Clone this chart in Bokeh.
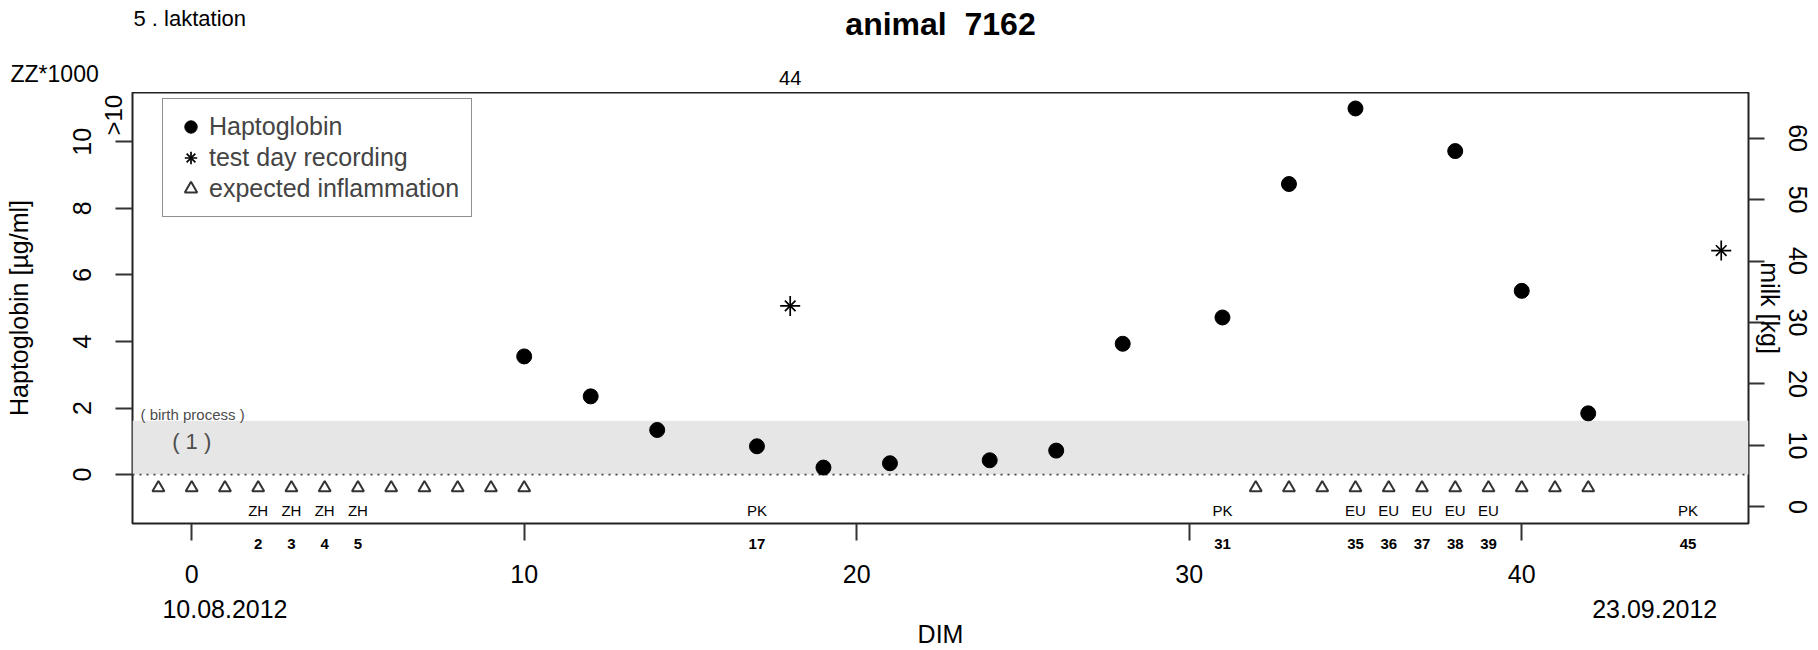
from bokeh.plotting import figure
from bokeh.layouts import column
from bokeh.models import (Range1d, LinearAxis, FixedTicker, Legend, LegendItem,
                          BoxAnnotation, Span)
from bokeh.embed import file_html
from bokeh.resources import INLINE
from bokeh.core.properties import value

# ---------------- data ----------------
hapto_day = [10, 12, 14, 17, 19, 21, 24, 26, 28, 31, 33, 35, 38, 40, 42]
hapto_val = [3.55, 2.35, 1.34, 0.85, 0.21, 0.34, 0.43, 0.72, 3.93, 4.72, 8.73, 11.0, 9.72, 5.52, 1.84]
test_day = [18, 46]
milk_kg = [32.7, 41.7]
zz_day = [18]
zz_text = ["44"]
infl_day = [-1, 0, 1, 2, 3, 4, 5, 6, 7, 8, 9, 10, 32, 33, 34, 35, 36, 37, 38, 39, 40, 41, 42]
code_day = [2, 3, 4, 5, 17, 31, 35, 36, 37, 38, 39, 45]
code_text = ["ZH", "ZH", "ZH", "ZH", "PK", "PK", "EU", "EU", "EU", "EU", "EU", "PK"]
date_day = [1, 44]
date_text = ["10.08.2012", "23.09.2012"]
x_ticks = [0, 10, 20, 30, 40]
y_ticks = [0, 2, 4, 6, 8, 10]
milk_ticks = [0, 10, 20, 30, 40, 50, 60]
band_top = 1.62          # upper limit of the shaded Haptoglobin band
over_level = 10.8        # where the ">10" marker of the left axis sits
over_text = ">10"
title_text = "animal\u00a0\u00a07162"

# ---------------- layout constants ----------------
FONT = "Liberation Sans"
BASE = "25px"
W, H_TOP, H_MAIN = 1818, 92, 558
B_LEFT, B_RIGHT, B_BOTTOM = 132, 70, 126
X_LO, X_HI = -1.78, 46.82
Y_LO, Y_HI = -1.47, 11.48
M_LO, M_HI = -2.71, 67.42
milk_mid = (M_LO + M_HI) / 2
frame_w = W - B_LEFT - B_RIGHT
ppu = frame_w / (X_HI - X_LO)

infl_level = -0.40
code_level = -1.07


def no_align(fig):
    if "frame_align" in fig.properties():
        fig.frame_align = False


# ---------------- top strip (texts above the plot box) ----------------
top = figure(width=W, height=H_TOP, output_backend="svg", toolbar_location=None,
             x_range=Range1d(X_LO - B_LEFT / ppu, X_HI + B_RIGHT / ppu),
             y_range=Range1d(H_TOP, 0), x_axis_type=None, y_axis_type=None,
             min_border=0, outline_line_color=None)
no_align(top)
top.grid.visible = False
top.text(x=[(X_LO + X_HI) / 2], y=[23], text=[title_text], text_align="center",
         text_baseline="alphabetic", text_font=value(FONT), text_font_size="32px",
         text_font_style="bold", text_color="black")
top.text(x=[X_LO + 1 / ppu], y=[18], text=["5 . laktation"], text_align="left",
         text_baseline="alphabetic", text_font=value(FONT), text_font_size="22px",
         text_color="black")
top.text(x=[X_LO - 122 / ppu], y=[73], text=["ZZ*1000"], text_align="left",
         text_baseline="alphabetic", text_font=value(FONT), text_font_size="23px",
         text_color="black")
top.text(x=zz_day, y=[77] * len(zz_day), text=zz_text, text_align="center",
         text_baseline="alphabetic", text_font=value(FONT), text_font_size="20px",
         text_color="black")

# ---------------- main plot ----------------
p = figure(width=W, height=H_MAIN, output_backend="svg", toolbar_location=None,
           x_range=Range1d(X_LO, X_HI), y_range=Range1d(Y_LO, Y_HI),
           x_axis_type=None, y_axis_type=None,
           min_border_left=B_LEFT, min_border_right=B_RIGHT, min_border_top=0,
           min_border_bottom=B_BOTTOM)
no_align(p)
p.extra_y_ranges = {"milk": Range1d(M_LO, M_HI)}
p.grid.visible = False
p.outline_line_color = "#222222"
p.outline_line_width = 2

p.add_layout(BoxAnnotation(bottom=0, top=band_top, fill_color="#e6e6e6", fill_alpha=1.0,
                           line_color=None, level="underlay"))
p.add_layout(Span(location=0, dimension="width", line_color="#444444", line_width=1.8,
                  line_dash="2 5", level="underlay"))


def base_axis(ax, size=BASE, standoff=0, vertical=False):
    ax.axis_line_color = None
    ax.major_tick_in = 0
    ax.major_tick_out = 0
    ax.major_tick_line_color = None
    ax.minor_tick_in = 0
    ax.minor_tick_line_color = None
    ax.major_label_text_font = FONT
    ax.major_label_text_font_size = size
    ax.major_label_text_color = "black"
    ax.major_label_standoff = standoff
    ax.axis_label_text_font = FONT
    ax.axis_label_text_font_size = BASE
    ax.axis_label_text_font_style = "normal"
    ax.axis_label_text_color = "black"
    if vertical:
        ax.major_label_orientation = "vertical"
    return ax


def with_minor(ax, out):
    ax.minor_tick_out = out
    ax.minor_tick_line_color = "#333333"
    ax.minor_tick_line_width = 2
    return ax


# below: code numbers (+ tick marks), day labels, dates + DIM
b1 = base_axis(LinearAxis(ticker=FixedTicker(ticks=code_day, minor_ticks=x_ticks)),
               size="15px", standoff=-2)
b1.major_label_text_font_style = "bold"
with_minor(b1, 17)
b2 = base_axis(LinearAxis(ticker=FixedTicker(ticks=x_ticks)), standoff=13)
b3 = base_axis(LinearAxis(ticker=FixedTicker(ticks=date_day)), standoff=14)
b3.major_label_overrides = dict(zip(date_day, date_text))
b3.axis_label = "DIM"
b3.axis_label_standoff = -1
for ax in (b1, b2, b3):
    p.add_layout(ax, "below")

# left: ">10" marker (+ tick marks), value labels + title
l1 = base_axis(LinearAxis(ticker=FixedTicker(ticks=[over_level], minor_ticks=y_ticks)),
               size="24px", standoff=-11, vertical=True)
l1.major_label_overrides = {over_level: over_text}
with_minor(l1, 17)
l2 = base_axis(LinearAxis(ticker=FixedTicker(ticks=y_ticks)), standoff=5, vertical=True)
l2.axis_label = "Haptoglobin [µg/ml]"
l2.axis_label_standoff = 38
for ax in (l1, l2):
    p.add_layout(ax, "left")

# right: milk title (+ tick marks), milk value labels
r1 = base_axis(LinearAxis(y_range_name="milk",
                          ticker=FixedTicker(ticks=[milk_mid], minor_ticks=milk_ticks)),
               standoff=-9, vertical=True)
r1.major_label_overrides = {milk_mid: "milk [kg]"}
with_minor(r1, 16)
r2 = base_axis(LinearAxis(y_range_name="milk", ticker=FixedTicker(ticks=milk_ticks)),
               standoff=2, vertical=True)
for ax in (r1, r2):
    p.add_layout(ax, "right")

# data glyphs
r_hapto = p.scatter(hapto_day, hapto_val, marker="circle", size=15, color="black")
r_t1 = p.scatter(test_day, milk_kg, marker="cross", size=20, line_color="black",
                 line_width=1.7, y_range_name="milk")
r_t2 = p.scatter(test_day, milk_kg, marker="x", size=15, line_color="black",
                 line_width=1.7, y_range_name="milk")
r_infl = p.scatter(infl_day, [infl_level] * len(infl_day), marker="triangle", size=12,
                   line_color="#333333", line_width=2, fill_color=None)

p.text(x=code_day, y=[code_level] * len(code_day), text=code_text, text_align="center",
       text_baseline="alphabetic", text_font=value(FONT), text_font_size="15px",
       text_color="black")
p.text(x=[X_LO + 8 / ppu], y=[1.80], text=["( birth process )"], text_align="left",
       text_baseline="alphabetic", text_font=value(FONT), text_font_size="15px",
       text_color="#4d4d4d")
p.text(x=[0.0], y=[0.99], text=["( 1 )"], text_align="center",
       text_baseline="alphabetic", text_font=value(FONT), text_font_size="22px",
       text_color="#4d4d4d")

# legend
legend = Legend(items=[
    LegendItem(label="Haptoglobin", renderers=[r_hapto]),
    LegendItem(label="test day recording", renderers=[r_t1, r_t2]),
    LegendItem(label="expected inflammation", renderers=[r_infl]),
], location=(30, 306), orientation="vertical")
legend.glyph_width = 31
legend.glyph_height = 31
legend.spacing = 0
legend.padding = 12
legend.margin = 0
legend.label_standoff = 3
legend.label_text_font = FONT
legend.label_text_font_size = BASE
legend.border_line_color = "#222222"
legend.border_line_width = 1.5
legend.background_fill_alpha = 1.0
p.add_layout(legend)

layout = column(top, p, spacing=0)
open("out.html", "w").write(file_html(layout, INLINE))
